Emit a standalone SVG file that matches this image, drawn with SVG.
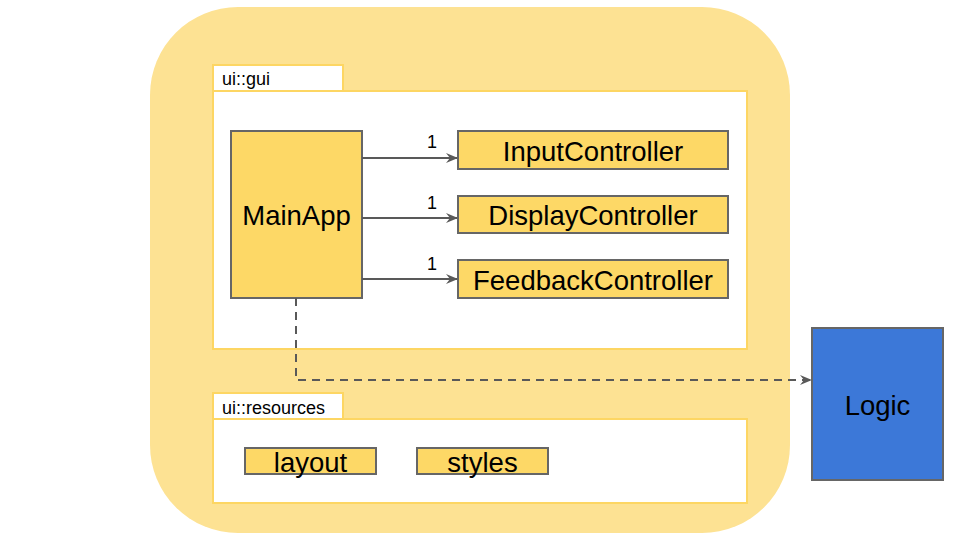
<svg xmlns="http://www.w3.org/2000/svg" width="960" height="540" viewBox="0 0 960 540">
<defs>
<style>
text{font-family:"Liberation Sans",Arial,sans-serif;fill:#000}
.pkg{fill:#fff;stroke:#fdd663;stroke-width:2}
.cls{fill:#fdd866;stroke:#666;stroke-width:2}
.lbl{font-size:27.500px;text-anchor:middle}
.tab{font-size:18px}
.mult{font-size:18px}
.conn{fill:none;stroke:#595959;stroke-width:2}
</style>
<marker id="arr" viewBox="0 0 12 10" refX="11" refY="5" markerWidth="12" markerHeight="10" markerUnits="userSpaceOnUse" orient="auto">
<path d="M0,0 L12,5 L0,10 L4,5 Z" fill="#595959"/>
</marker>
</defs>
<rect width="960" height="540" fill="#fff"/>
<g id="ui">
<rect x="150" y="7" width="640" height="526" rx="88" ry="88" fill="#fde293"/>
</g>
<g id="gui">
<rect class="pkg" x="213" y="65" width="130" height="26"/>
<text class="tab" x="222" y="85">ui::gui</text>
<rect class="pkg" x="213" y="91" width="534" height="258"/>
</g>
<g id="resources">
<rect class="pkg" x="213" y="393" width="130" height="26"/>
<text class="tab" x="222" y="414">ui::resources</text>
<rect class="pkg" x="213" y="419" width="534" height="84"/>
</g>
<g id="MainApp">
<rect class="cls" x="231" y="131" width="131" height="167"/>
<text class="lbl" x="296.500" y="225">MainApp</text>
</g>
<g id="InputController">
<rect class="cls" x="458" y="131" width="270" height="38"/>
<text class="lbl" x="593" y="161">InputController</text>
</g>
<g id="DisplayController">
<rect class="cls" x="458" y="196" width="270" height="37"/>
<text class="lbl" x="593" y="225">DisplayController</text>
</g>
<g id="FeedbackController">
<rect class="cls" x="458" y="260" width="270" height="38"/>
<text class="lbl" x="593" y="290">FeedbackController</text>
</g>
<g id="layout">
<rect class="cls" x="245" y="448" width="131" height="26"/>
<text class="lbl" x="310.500" y="472">layout</text>
</g>
<g id="styles">
<rect class="cls" x="417" y="448" width="131" height="26"/>
<text class="lbl" x="482.500" y="472">styles</text>
</g>
<g id="Logic">
<rect x="812" y="328" width="131" height="152" fill="#3c78d8" stroke="#666" stroke-width="2"/>
<text class="lbl" x="877.500" y="415">Logic</text>
</g>
<g id="connectors">
<line class="conn" x1="362" y1="158" x2="457" y2="158" marker-end="url(#arr)"/>
<line class="conn" x1="362" y1="218" x2="457" y2="218" marker-end="url(#arr)"/>
<line class="conn" x1="362" y1="279" x2="457" y2="279" marker-end="url(#arr)"/>
<text class="mult" x="427" y="148">1</text>
<text class="mult" x="427" y="209">1</text>
<text class="mult" x="427" y="270">1</text>
<path class="conn" d="M296,298 V380 H811" stroke-dasharray="8,6" marker-end="url(#arr)"/>
</g>
</svg>
